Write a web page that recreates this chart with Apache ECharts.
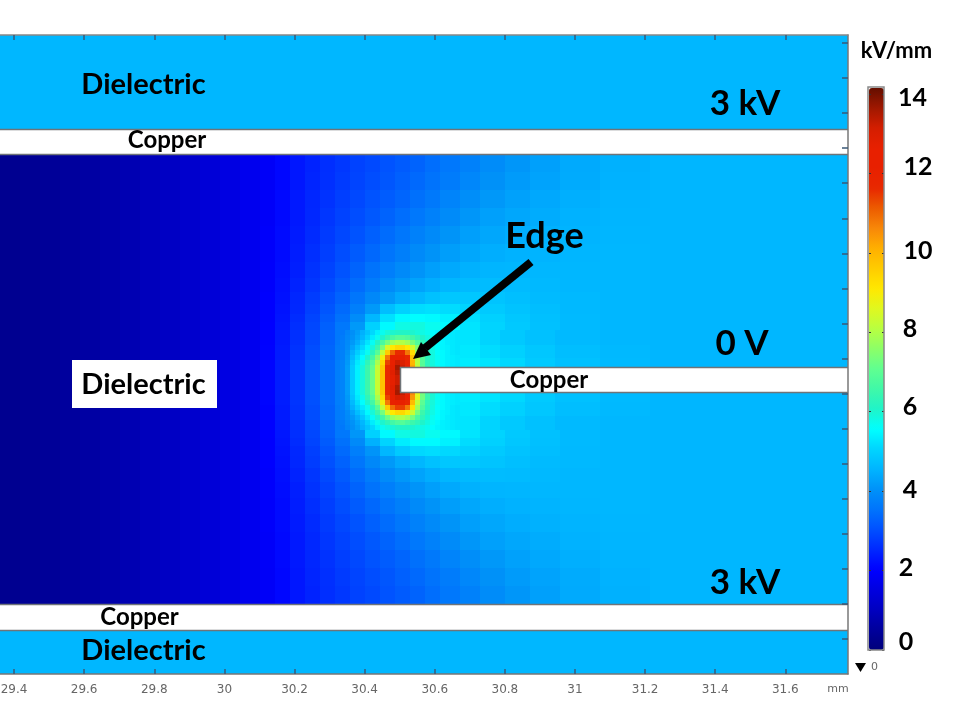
<!DOCTYPE html>
<html>
<head>
<meta charset="utf-8">
<style>html,body{margin:0;padding:0;background:#fff}#c{width:957px;height:706px}</style>
<script src="https://cdn.jsdelivr.net/npm/echarts@6/dist/echarts.min.js"></script>
</head>
<body>
<div id="c"></div>
<script>
// Axis ticks
var xTicks = [29.4,29.6,29.8,30,30.2,30.4,30.6,30.8,31,31.2,31.4,31.6];
var yTicks = [0,0.1,0.2,0.3,0.4,0.5,0.6,0.7,0.8,0.9,1,1.1,1.2,1.3,1.4,1.5,1.6,1.7];
var scaleTicks = [0,2,4,6,8,10,12,14];

// Electric field in kV/mm, region by region.
// Each region has cell edges in mm (x left to right, y top to bottom) and one row of values per y cell.
var _ = null; // inside the copper

// Dark left part: the contours there are vertical
var leftX = [29.36,29.417,29.4741,29.5311,29.5882,29.6452,29.7023,29.7593,29.8164,29.8734,29.9305,29.9875,30.0446,30.1016];
var leftY = [1.383,0.0995];
var leftField = [[0.32,0.38,0.44,0.52,0.6,0.7,0.82,0.95,1.08,1.22,1.38,1.55,1.75]];

// Far right part: almost uniform
var rightX = [31.214,31.4137,31.7787];
var rightY = [1.383,0.0995];
var rightField = [[4.58,4.6]];

// Above and below the edge
var midX = [30.1016,30.1444,30.1872,30.23,30.2727,30.3155,30.3583,30.4011,30.4439,30.4867,30.5294,30.5722,30.615,30.6721,30.7291,30.8004,30.8717,30.9573,31.0714,31.214];
var northY = [1.383,1.3316,1.2803,1.229,1.1776,1.1263,1.0749,1.0293,0.9894,0.9551,0.9266,0.9038,0.881];
var northField = [
[1.9,2.1,2.3,2.45,2.6,2.72,2.85,2.95,3.07,3.18,3.3,3.45,3.6,3.75,3.95,4.1,4.25,4.4,4.5],
[1.9,2.1,2.3,2.47,2.62,2.75,2.88,3.0,3.12,3.25,3.38,3.52,3.68,3.85,4.02,4.18,4.3,4.42,4.52],
[1.92,2.12,2.32,2.5,2.65,2.8,2.93,3.07,3.2,3.33,3.48,3.62,3.8,3.97,4.13,4.27,4.37,4.47,4.55],
[1.92,2.12,2.33,2.52,2.7,2.86,3.0,3.15,3.3,3.45,3.6,3.75,3.93,4.1,4.25,4.35,4.43,4.52,4.57],
[1.95,2.15,2.35,2.55,2.75,2.92,3.08,3.25,3.42,3.58,3.75,3.9,4.07,4.23,4.36,4.44,4.5,4.55,4.58],
[1.95,2.15,2.37,2.6,2.8,3.0,3.18,3.37,3.55,3.73,3.9,4.06,4.22,4.35,4.46,4.52,4.55,4.58,4.6],
[1.97,2.17,2.4,2.65,2.87,3.08,3.3,3.52,3.72,3.9,4.08,4.24,4.38,4.5,4.56,4.58,4.6,4.6,4.6],
[1.97,2.2,2.45,2.7,2.95,3.17,3.42,3.68,3.92,4.12,4.3,4.45,4.58,4.65,4.68,4.66,4.63,4.6,4.6],
[2.0,2.22,2.5,2.78,3.03,3.28,3.57,3.87,4.15,4.4,4.6,4.75,4.85,4.85,4.8,4.72,4.66,4.62,4.6],
[2.0,2.25,2.52,2.82,3.1,3.4,3.72,4.15,4.7,5.0,5.15,5.2,5.15,5.05,4.9,4.78,4.7,4.63,4.6],
[2.0,2.27,2.57,2.88,3.18,3.5,3.95,4.6,5.2,5.5,5.55,5.5,5.4,5.2,5.0,4.85,4.73,4.65,4.6],
[2.02,2.3,2.6,2.92,3.25,3.6,4.15,5.0,5.5,5.8,5.85,5.7,5.5,5.25,5.05,4.88,4.75,4.65,4.6]
];
var southY = [0.5957,0.5729,0.5501,0.5216,0.4874,0.4474,0.4018,0.3562,0.3048,0.2535,0.2021,0.1508,0.0995];
var southField = [
[2.02,2.3,2.6,2.92,3.25,3.6,4.1,5.0,5.5,5.8,5.85,5.7,5.5,5.25,5.05,4.88,4.75,4.65,4.6],
[2.0,2.27,2.57,2.88,3.18,3.5,3.9,4.5,5.05,5.35,5.5,5.5,5.4,5.15,5.0,4.85,4.73,4.65,4.6],
[2.0,2.25,2.52,2.82,3.1,3.4,3.72,4.08,4.6,4.9,5.1,5.15,5.1,5.0,4.9,4.78,4.7,4.63,4.6],
[2.0,2.22,2.5,2.78,3.03,3.28,3.57,3.87,4.15,4.38,4.6,4.75,4.85,4.85,4.8,4.72,4.66,4.62,4.6],
[1.97,2.2,2.45,2.7,2.95,3.17,3.42,3.68,3.92,4.12,4.3,4.45,4.58,4.65,4.68,4.66,4.63,4.6,4.6],
[1.97,2.17,2.4,2.65,2.87,3.08,3.3,3.52,3.72,3.9,4.08,4.24,4.38,4.5,4.56,4.58,4.6,4.6,4.6],
[1.95,2.15,2.37,2.6,2.8,3.0,3.18,3.37,3.55,3.73,3.9,4.06,4.22,4.35,4.46,4.52,4.55,4.58,4.6],
[1.95,2.15,2.35,2.55,2.75,2.92,3.08,3.25,3.42,3.58,3.75,3.9,4.07,4.23,4.36,4.44,4.5,4.55,4.58],
[1.92,2.12,2.33,2.52,2.7,2.86,3.0,3.15,3.3,3.45,3.6,3.75,3.93,4.1,4.25,4.35,4.43,4.52,4.57],
[1.92,2.12,2.32,2.5,2.65,2.8,2.93,3.07,3.2,3.33,3.48,3.62,3.8,3.97,4.13,4.27,4.37,4.47,4.55],
[1.9,2.1,2.3,2.47,2.62,2.75,2.88,3.0,3.12,3.25,3.38,3.52,3.68,3.85,4.02,4.18,4.3,4.42,4.52],
[1.9,2.1,2.3,2.45,2.6,2.72,2.85,2.95,3.07,3.18,3.3,3.45,3.6,3.75,3.95,4.1,4.25,4.4,4.5]
];

// West of the edge
var westX = [30.1016,30.1444,30.1872,30.23,30.2727,30.3155,30.3298];
var westY = [0.881,0.8382,0.7954,0.7526,0.7098,0.667,0.6243,0.5957];
var westField = [
[2.03,2.32,2.62,2.95,3.28,3.6],
[2.05,2.35,2.65,3.0,3.33,3.65],
[2.07,2.37,2.68,3.03,3.37,3.7],
[2.07,2.37,2.68,3.03,3.37,3.7],
[2.07,2.37,2.68,3.03,3.37,3.7],
[2.05,2.35,2.65,3.0,3.33,3.65],
[2.03,2.32,2.62,2.95,3.28,3.6]
];

// East of the edge, above and below the middle copper
var eastX = [30.6721,30.7291,30.7861,30.8575,30.943,31.0714,31.214];
var eastUpperY = [0.881,0.8382,0.8011,0.7754];
var eastUpperField = [
[5.25,5.05,4.88,4.75,4.65,4.6],
[5.3,5.15,5.0,4.85,4.7,4.62],
[5.35,5.25,5.1,4.9,4.75,4.65]
];
var eastLowerY = [0.7041,0.6756,0.6357,0.5957];
var eastLowerField = [
[5.35,5.25,5.1,4.9,4.75,4.65],
[5.3,5.15,5.0,4.85,4.7,4.62],
[5.25,5.05,4.88,4.75,4.65,4.6]
];

// Around the edge itself
var tipX = [30.3298,30.344,30.3583,30.3726,30.3868,30.4011,30.4154,30.4296,30.4439,30.4582,30.4724,30.4867,30.5009,30.5152,30.5295,30.5437,30.558,30.5723,30.5865,30.6008,30.6151,30.6293,30.6436,30.6579,30.6721];
var tipY = [0.881,0.8667,0.8525,0.8382,0.824,0.8097,0.7954,0.7812,0.7669,0.7526,0.7384,0.7241,0.7098,0.6956,0.6813,0.667,0.6528,0.6385,0.6243,0.61,0.5957];
var tipField = [
[3.6,3.8,4.0,4.2,4.5,4.8,5.1,5.4,5.7,5.9,6.0,6.1,6.1,6.1,6.0,5.9,5.8,5.7,5.55,5.45,5.4,5.35,5.3,5.25],
[3.65,3.85,4.05,4.3,4.6,5.0,5.35,5.7,6.0,6.4,6.7,6.9,6.9,6.8,6.6,6.3,6.05,5.85,5.65,5.5,5.4,5.35,5.3,5.25],
[3.7,3.9,4.15,4.45,4.85,5.25,5.65,6.1,6.7,7.3,7.8,8.0,8.0,7.8,7.3,6.8,6.3,5.95,5.7,5.55,5.45,5.35,5.3,5.25],
[3.7,3.95,4.3,4.7,5.1,5.5,5.9,6.5,7.4,8.5,9.1,9.4,9.4,9.1,8.4,7.5,6.6,6.1,5.8,5.6,5.45,5.4,5.3,5.25],
[3.75,4.05,4.5,4.95,5.3,5.7,6.2,6.9,8.2,9.6,11.0,11.6,11.6,10.8,9.3,7.8,6.8,6.2,5.85,5.6,5.5,5.4,5.3,5.25],
[3.75,4.1,4.65,5.15,5.55,6.0,6.6,7.5,8.9,10.8,12.1,12.4,12.3,11.7,9.8,8.0,6.9,6.25,5.85,5.65,5.5,5.4,5.35,5.3],
[3.8,4.15,4.8,5.3,5.75,6.3,6.9,7.9,9.4,11.4,12.5,13.2,13.0,12.0,10.0,8.1,6.9,6.25,5.85,5.65,5.5,5.4,5.35,5.3],
[3.8,4.2,4.9,5.4,5.9,6.5,7.1,8.2,9.7,11.7,12.7,13.6,13.2,12.2,10.2,8.2,7.0,6.3,5.9,5.7,5.5,5.4,5.35,5.3],
[3.8,4.2,4.9,5.4,5.9,6.5,7.2,8.3,9.8,11.8,12.8,13.4,_,_,_,_,_,_,_,_,_,_,_,_],
[3.8,4.2,4.9,5.4,5.9,6.5,7.2,8.3,9.8,11.8,12.7,13.2,_,_,_,_,_,_,_,_,_,_,_,_],
[3.8,4.2,4.9,5.4,5.9,6.5,7.2,8.3,9.8,11.8,12.7,13.2,_,_,_,_,_,_,_,_,_,_,_,_],
[3.8,4.2,4.9,5.4,5.9,6.5,7.2,8.3,9.8,11.8,12.8,13.5,_,_,_,_,_,_,_,_,_,_,_,_],
[3.8,4.2,4.9,5.4,5.9,6.5,7.1,8.2,9.7,11.7,12.7,13.6,13.3,12.4,10.6,8.6,7.3,6.5,5.95,5.7,5.5,5.4,5.35,5.3],
[3.8,4.15,4.8,5.3,5.75,6.3,6.9,7.9,9.4,11.4,12.5,13.1,13.0,12.1,10.4,8.6,7.3,6.5,5.95,5.7,5.5,5.4,5.35,5.3],
[3.75,4.1,4.65,5.15,5.55,6.0,6.6,7.5,8.9,10.8,12.0,12.2,12.1,11.7,9.9,8.2,7.0,6.3,5.9,5.65,5.5,5.4,5.35,5.3],
[3.75,4.05,4.5,4.95,5.3,5.7,6.2,6.9,8.2,9.6,10.9,11.4,11.4,10.8,9.2,7.8,6.8,6.2,5.85,5.6,5.5,5.4,5.3,5.25],
[3.7,3.95,4.3,4.7,5.1,5.5,5.9,6.5,7.3,8.4,9.1,9.4,9.4,9.0,8.3,7.3,6.5,6.1,5.8,5.6,5.45,5.4,5.3,5.25],
[3.7,3.9,4.15,4.45,4.85,5.25,5.65,6.0,6.6,7.2,7.7,7.9,8.0,7.8,7.3,6.7,6.3,5.95,5.7,5.55,5.45,5.35,5.3,5.25],
[3.65,3.85,4.05,4.3,4.6,5.0,5.35,5.7,6.0,6.3,6.6,6.8,6.9,6.7,6.5,6.3,6.05,5.85,5.65,5.5,5.4,5.35,5.3,5.25],
[3.6,3.8,4.0,4.2,4.5,4.8,5.1,5.4,5.7,5.85,5.95,6.1,6.1,6.1,6.0,5.9,5.8,5.7,5.55,5.45,5.4,5.35,5.3,5.25]
];

// Outer dielectric bands: [x0, x1, yTop, yBottom, kV/mm]
var dielectricBands = [
  [29.36,31.7787,1.7228,1.4543,4.6],
  [29.36,31.7787,0.0253,-0.1,4.6]
];
// Copper layers: [x0, x1, yTop, yBottom]
var copperLayers = [
  [29.36,31.7787,1.4543,1.383],
  [30.5009,31.7787,0.7754,0.7041],
  [29.36,31.7787,0.0995,0.0253]
];

// Colour scale, evenly spaced from 0 to 14.15 kV/mm
var scaleColors = ['#00007a','#00009c','#0000c0','#0000e0','#0000ff','#0028ff','#0050ff','#0074fc','#0092f8','#00b4ff','#00d4ff','#00ffff','#20f4c8','#40f8a8','#60ff90','#8cff68','#b8ff40','#e0f820','#ffe800','#ffcc00','#ffb000','#f88808','#ec5c00','#e82800','#e82000','#e82000','#d41e00','#a01800','#640e00'];

var cells = [];
function addRegion(xe, ye, vals) {
  vals.forEach(function (row, r) {
    row.forEach(function (v, c) {
      if (v !== null) cells.push([xe[c], xe[c + 1], ye[r], ye[r + 1], v]);
    });
  });
}
addRegion(leftX, leftY, leftField);
addRegion(rightX, rightY, rightField);
addRegion(midX, northY, northField);
addRegion(midX, southY, southField);
addRegion(westX, westY, westField);
addRegion(eastX, eastUpperY, eastUpperField);
addRegion(eastX, eastLowerY, eastLowerField);
addRegion(tipX, tipY, tipField);

function cellItem(params, api) {
  var a = api.coord([api.value(0), api.value(2)]);
  var b = api.coord([api.value(1), api.value(3)]);
  var x0 = Math.round(a[0]), y0 = Math.round(a[1]), x1 = Math.round(b[0]), y1 = Math.round(b[1]);
  return {type: 'rect', shape: {x: x0, y: y0, width: x1 - x0, height: y1 - y0},
    style: {fill: api.visual('color'), stroke: null}};
}
function copperItem(params, api) {
  var a = api.coord([api.value(0), api.value(2)]);
  var b = api.coord([api.value(1), api.value(3)]);
  var rx = Math.round(a[0]);
  var x0 = rx <= 0 ? -3 : rx + 0.5, y0 = Math.round(a[1]) + 0.5, x1 = Math.round(b[0]) + 3, y1 = Math.round(b[1]) + 0.5;
  return {type: 'rect', shape: {x: x0, y: y0, width: x1 - x0, height: y1 - y0},
    style: {fill: '#fff', stroke: '#6f7478', lineWidth: 1.5}};
}

var FONT = 'Lato';
function label(text, cx, cy, size, color) {
  return {type: 'text', z: 100, x: cx, y: cy + 1, silent: true,
    style: {text: text, fill: color || '#000', font: 'bold ' + size + 'px ' + FONT, align: 'center', verticalAlign: 'middle'}};
}

var chart = echarts.init(document.getElementById('c'), null, {renderer: 'canvas'});
chart.setOption({
  animation: false,
  backgroundColor: '#fff',
  tooltip: {show: false},
  grid: [
    {left: 0, width: 848, top: 35, height: 639, containLabel: false, outerBoundsMode: 'none'},
    {left: 869, width: 15, top: 88, height: 562, outerBoundsMode: 'none'}
  ],
  xAxis: [
    {type: 'value', gridIndex: 0, position: 'bottom', min: 29.36, max: 31.7787, z: 10, splitLine: {show: false},
     axisLine: {show: true, onZero: false, lineStyle: {color: '#777', width: 1.5}},
     axisTick: {show: true, inside: true, length: 5, customValues: xTicks, lineStyle: {color: '#3a5a78', width: 1.5}},
     axisLabel: {show: true, customValues: xTicks, margin: 10, color: '#666', fontSize: 12, fontFamily: 'DejaVu Sans', hideOverlap: false,
       formatter: function (v) { return String(v); }}},
    {type: 'value', gridIndex: 0, position: 'top', min: 29.36, max: 31.7787, z: 10, splitLine: {show: false},
     axisLine: {show: true, onZero: false, lineStyle: {color: '#888', width: 1.5}},
     axisTick: {show: true, inside: true, length: 5, customValues: xTicks, lineStyle: {color: '#3a5a78', width: 1.5}},
     axisLabel: {show: false}},
    {type: 'value', gridIndex: 1, show: false, min: 0, max: 1}
  ],
  yAxis: [
    {type: 'value', gridIndex: 0, position: 'right', min: -0.1, max: 1.7228, z: 10, splitLine: {show: false},
     axisLine: {show: true, onZero: false, lineStyle: {color: '#777', width: 1.5}},
     axisTick: {show: true, inside: true, length: 6, customValues: yTicks, lineStyle: {color: '#3a5a78', width: 1.5}},
     axisLabel: {show: false}},
    {type: 'value', gridIndex: 1, position: 'left', min: 0, max: 14.15, z: 10, splitLine: {show: false},
     axisLine: {show: false},
     axisTick: {show: true, inside: true, length: 2, customValues: scaleTicks, lineStyle: {color: '#333', width: 1}},
     axisLabel: {show: false}},
    {type: 'value', gridIndex: 1, position: 'right', min: 0, max: 14.15, z: 10, splitLine: {show: false},
     axisLine: {show: false},
     axisTick: {show: true, inside: true, length: 2, customValues: scaleTicks, lineStyle: {color: '#333', width: 1}},
     axisLabel: {show: false}}
  ],
  visualMap: {
    type: 'continuous', min: 0, max: 14.15, dimension: 4, seriesIndex: [0, 1],
    left: 869, top: 88, itemWidth: 15, itemHeight: 562, padding: 0, text: null, calculable: false, realtime: false,
    hoverLink: false, showLabel: false, borderWidth: 0,
    inRange: {color: scaleColors}, outOfRange: {color: '#fff'},
    textStyle: {color: 'transparent', fontSize: 1}
  },
  series: [
    {type: 'custom', name: 'Field', coordinateSystem: 'cartesian2d', xAxisIndex: 0, yAxisIndex: 0, silent: true,
     progressive: 0, clip: true, encode: {x: [0, 1], y: [2, 3]}, dimensions: ['x0','x1','y0','y1','v'], renderItem: cellItem, data: cells, z: 2},
    {type: 'custom', name: 'Dielectric', coordinateSystem: 'cartesian2d', xAxisIndex: 0, yAxisIndex: 0, silent: true,
     encode: {x: [0, 1], y: [2, 3]}, dimensions: ['x0','x1','y0','y1','v'], renderItem: cellItem, data: dielectricBands, z: 2},
    {type: 'custom', name: 'Copper', coordinateSystem: 'cartesian2d', xAxisIndex: 0, yAxisIndex: 0, silent: true,
     clip: true, encode: {x: [0, 1], y: [2, 3]}, renderItem: copperItem, data: copperLayers, z: 3}
  ],
  graphic: {elements: [
    {type: 'rect', z: 99, silent: true, shape: {x: 72, y: 360, width: 145, height: 48}, style: {fill: '#fff'}},
    {type: 'rect', z: 99, silent: true, shape: {x: 868, y: 87, width: 16, height: 563}, style: {fill: 'none', stroke: '#888', lineWidth: 1.5}},
    {type: 'line', z: 99, silent: true, shape: {x1: 531, y1: 262, x2: 425, y2: 348}, style: {stroke: '#000', lineWidth: 8}},
    {type: 'polygon', z: 99, silent: true, shape: {points: [[413, 359], [421, 342], [431, 355]]}, style: {fill: '#000'}},
    label('Dielectric', 143.5, 84, 29),
    label('Dielectric', 143.5, 384, 29),
    label('Dielectric', 143.5, 650, 29),
    label('Copper', 167, 139, 24),
    label('Copper', 139.5, 616, 24),
    label('Copper', 549, 379, 24),
    label('3 kV', 745, 103, 35),
    label('0 V', 742, 343, 35),
    label('3 kV', 745, 582, 35),
    label('Edge', 544.5, 235, 36),
    label('kV/mm', 896.5, 50, 22),
    label('14', 912.5, 97, 25),
    label('12', 918, 166, 25),
    label('10', 918, 250, 25),
    label('8', 910, 328, 25),
    label('6', 910, 406, 25),
    label('4', 910, 489, 25),
    label('2', 906, 567, 25),
    label('0', 906, 641, 25),
    {type: 'polygon', z: 99, silent: true, shape: {points: [[855, 663], [866, 663], [860.5, 672]]}, style: {fill: '#000'}},
    {type: 'text', z: 100, x: 874.5, y: 667, silent: true, style: {text: '0', fill: '#666', font: '11px DejaVu Sans', align: 'center', verticalAlign: 'middle'}},
    {type: 'text', z: 100, x: 838, y: 689, silent: true, style: {text: 'mm', fill: '#666', font: '11px DejaVu Sans', align: 'center', verticalAlign: 'middle'}}
  ]}
});
</script>
</body>
</html>
